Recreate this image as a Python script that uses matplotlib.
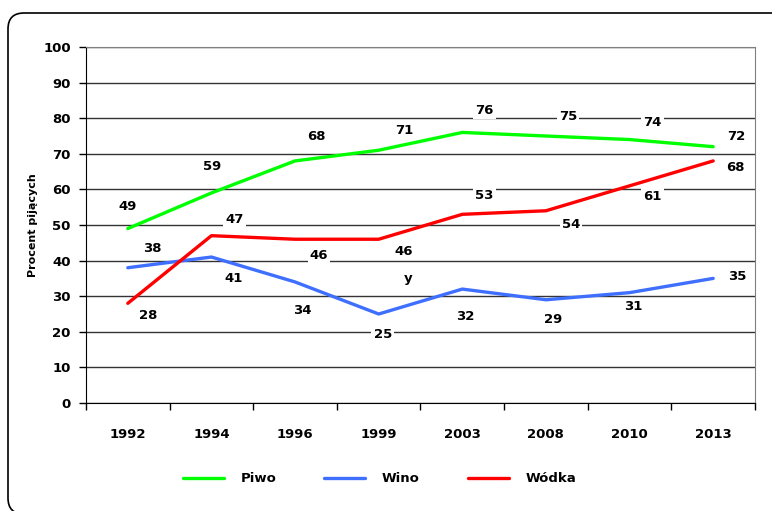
import matplotlib
matplotlib.use("Agg")
import matplotlib.pyplot as plt
from matplotlib.patches import FancyBboxPatch
from matplotlib.lines import Line2D
from matplotlib.transforms import IdentityTransform

years = ["1992", "1994", "1996", "1999", "2003", "2008", "2010", "2013"]
piwo = [49, 59, 68, 71, 76, 75, 74, 72]
wino = [38, 41, 34, 25, 32, 29, 31, 35]
wodka = [28, 47, 46, 46, 53, 54, 61, 68]
series_names = ["Piwo", "Wino", "Wódka"]

# label offsets in pixels (dx, dy) relative to data point
off_piwo = [(0, 22), (1, 26), (21, 24), (26, 20), (22, 22), (22, 20), (23, 17), (23, 10)]
off_wino = [(25, 19), (22, -21), (7, -29), (4, -20), (3, -27), (7, -20), (4, -14), (24, 2)]
off_wodka = [(20, -12), (23, 16), (24, -16), (25, -12), (22, 19), (25, -14), (23, -11), (22, -7)]

colors = ["#00ff00", "#3f6fff", "#ff0000"]

plt.rcParams["font.family"] = ["DejaVu Sans"]
W, H = 772, 511
fig = plt.figure(figsize=(W / 100, H / 100), dpi=100)

# outer rounded frame (pixel coords, origin bottom-left)
frame = FancyBboxPatch((8, H - 514), 788 - 8, 514 - 13,
                       boxstyle="round,pad=0,rounding_size=16",
                       transform=IdentityTransform(), fill=False, edgecolor="#000000",
                       linewidth=1.2)
fig.patches.append(frame)

ax = fig.add_axes([86 / W, 1 - 403 / H, (755 - 86) / W, (403 - 47) / H])
x = list(range(len(years)))
ax.set_xlim(-0.5, len(years) - 0.5)
ax.set_ylim(0, 100)
ax.set_yticks(range(0, 101, 10))
ax.yaxis.grid(True, color="#333333", linewidth=1.0, zorder=0)
ax.set_axisbelow(True)
ax.set_xticks(x)
ax.set_xticklabels(years, fontsize=9.5, fontweight="bold")
ax.tick_params(axis="x", length=0, pad=18)
ax.set_xticks([i - 0.5 for i in range(len(years) + 1)], minor=True)
ax.tick_params(axis="x", which="minor", length=5, width=1, direction="out")
ax.tick_params(axis="y", length=5, width=1, direction="out", labelsize=9.5, pad=6)
for lab in ax.get_yticklabels():
    lab.set_fontweight("bold")
ax.spines["top"].set_color("#808080")
ax.spines["right"].set_color("#808080")
ax.spines["left"].set_color("#000000")
ax.spines["bottom"].set_color("#000000")
ax.set_ylabel("Procent pijących", fontsize=8, fontweight="bold", labelpad=4)

for vals, offs, c in zip([piwo, wino, wodka], [off_piwo, off_wino, off_wodka], colors):
    ax.plot(x, vals, color=c, linewidth=2.4, zorder=4, solid_capstyle="round")
    for xi, v, (dx, dy) in zip(x, vals, offs):
        ax.annotate(str(v), (xi, v), xytext=(dx, dy), textcoords="offset pixels",
                    ha="center", va="center", fontsize=9.5, fontweight="bold",
                    bbox=dict(facecolor="white", edgecolor="none", pad=1.5), zorder=3)

ax.text(3.35, 35, "y", ha="center", va="center", fontsize=9.5, fontweight="bold", zorder=3)

# legend drawn manually in pixel positions
leg_x = [183, 324, 468]
leg_y = 478
for lx, name, c in zip(leg_x, series_names, colors):
    fig.add_artist(Line2D([lx / W, (lx + 41) / W], [1 - leg_y / H, 1 - leg_y / H],
                          color=c, linewidth=2.4, solid_capstyle="round",
                          transform=fig.transFigure))
    fig.text((lx + 58) / W, 1 - leg_y / H, name, ha="left", va="center",
             fontsize=9.5, fontweight="bold")

fig.savefig("out.png", dpi=100)
